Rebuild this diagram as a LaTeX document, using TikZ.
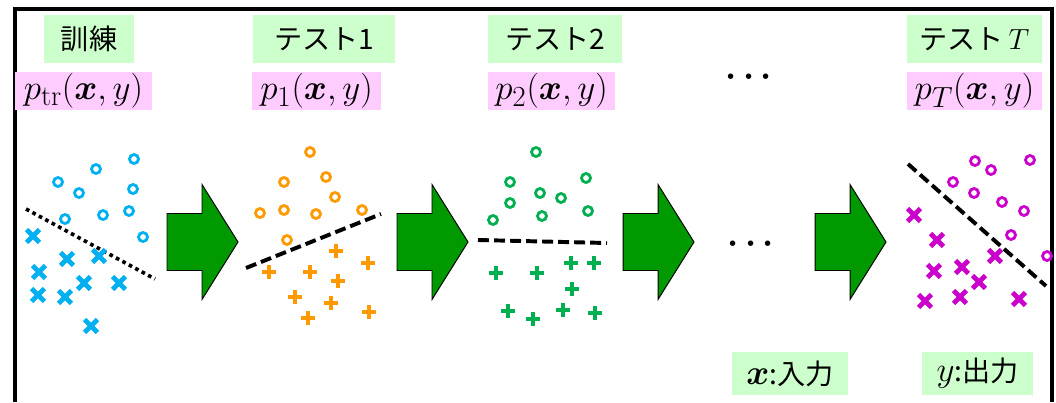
\documentclass[tikz,border=0pt]{standalone}
\usepackage{amsmath}
\usepackage{fontspec}
\newfontfamily\jpfont{Noto Sans CJK JP}

\definecolor{boxgreen}{RGB}{204,255,204}
\definecolor{boxpink}{RGB}{255,204,255}
\definecolor{arrowgreen}{RGB}{0,153,0}
\definecolor{trcyan}{RGB}{0,176,240}
\definecolor{tsorange}{RGB}{255,153,0}
\definecolor{tsgreen}{RGB}{0,176,80}
\definecolor{tsmagenta}{RGB}{204,0,204}

\tikzset{
    namebox/.style = {fill=boxgreen, inner sep=0pt, minimum height=1.2cm,
                      font=\fontsize{20}{24}\selectfont\jpfont},
    distbox/.style = {fill=boxpink, inner sep=0pt, minimum height=0.95cm,
                      font=\fontsize{29}{32}\selectfont},
    keybox/.style  = {fill=boxgreen, inner sep=0pt, minimum height=1.075cm,
                      font=\fontsize{20}{24}\selectfont\jpfont},
    ring/.pic   = {\draw[line width=2pt] (0,0) circle (3.2pt);},
    xmark/.pic  = {\draw[line width=3.4pt] (-4.6pt,-4.6pt) -- (4.6pt,4.6pt) (-4.6pt,4.6pt) -- (4.6pt,-4.6pt);},
    pmark/.pic  = {\draw[line width=3pt] (-5pt,0) -- (5pt,0) (0,-5pt) -- (0,5pt);},
    bigarrow/.pic = {\draw[fill=arrowgreen, line width=0.7pt]
                        (0,-28.5) -- (35,-28.5) -- (35,-57.5) -- (71,0)
                        -- (35,57.5) -- (35,28.5) -- (0,28.5) -- cycle;},
    boundary/.style = {line width=2.8pt, dash pattern=on 7.8pt off 3.6pt},
}

\begin{document}
\begin{tikzpicture}[x=0.025cm,y=-0.025cm]

            \useasboundingbox (0,0) rectangle (1056,402);
            % \draw [help lines,step=50] (0,0) grid (1056,402);

            % frame (bottom edge is cut off)
            \draw[line width=2.2pt] (15,402) -- (15,9) -- (1052,9) -- (1052,402);

            \path   (89,39)     node (train)  [namebox, minimum width=2.25cm]  {訓練}
                    (324,39)    node (test1)  [namebox, minimum width=3.55cm]  {テスト1}
                    (555,39)    node (test2)  [namebox, minimum width=3.35cm]  {テスト2}
                    (974.5,39)  node (testT)  [namebox, minimum width=3.375cm] {テスト\,$T$}
                    (83.5,91)   node (ptr)    [distbox, minimum width=3.425cm] {$p_{\mathrm{tr}}(\boldsymbol{x},y)$}
                    (316.5,91)  node (p1)     [distbox, minimum width=3.225cm] {$p_1(\boldsymbol{x},y)$}
                    (551.5,91)  node (p2)     [distbox, minimum width=3.175cm] {$p_2(\boldsymbol{x},y)$}
                    (974.5,91)  node (pT)     [distbox, minimum width=3.375cm] {$p_T(\boldsymbol{x},y)$}
                    (752,77)    node (dotstop) [font=\fontsize{28}{30}\selectfont] {$\boldsymbol{\cdots}$}
                    (754,244)   node (dotsmid) [font=\fontsize{28}{30}\selectfont] {$\boldsymbol{\cdots}$}
                    (790,373.5) node (inkey)  [keybox, minimum width=2.9cm]
                                {{\fontsize{25}{28}\selectfont$\boldsymbol{x}$}:入力}
                    (977.5,373.5) node (outkey) [keybox, minimum width=2.775cm]
                                {{\fontsize{25}{28}\selectfont$y$}:出力};

            % big arrows
            \path (167,242) pic {bigarrow}
                  (397,242) pic {bigarrow}
                  (623,242) pic {bigarrow}
                  (815,242) pic {bigarrow};

            % training data
            \draw[line width=2.6pt, dash pattern=on 2.6pt off 2.6pt] (26,209) -- (155,279);
            \path[trcyan] (134,159) pic {ring} (96,169) pic {ring} (58,182) pic {ring}
                          (79,193) pic {ring} (133,189) pic {ring} (103,215) pic {ring}
                          (129,211) pic {ring} (65,219) pic {ring} (143,237) pic {ring};
            \path[trcyan] (33,236) pic {xmark} (67,259) pic {xmark} (99,256) pic {xmark}
                          (39,272) pic {xmark} (84,283) pic {xmark} (119,283) pic {xmark}
                          (38,295) pic {xmark} (65,297) pic {xmark} (91,326) pic {xmark};

            % test 1
            \draw[boundary] (246,268) -- (381,214);
            \path[tsorange] (310,152) pic {ring} (284,182) pic {ring} (326,177) pic {ring}
                            (335,197) pic {ring} (260,213) pic {ring} (284,210) pic {ring}
                            (316,214) pic {ring} (362,210) pic {ring} (287,240) pic {ring};
            \path[tsorange] (336,251) pic {pmark} (368,263) pic {pmark} (269,272) pic {pmark}
                            (310,272) pic {pmark} (338,281) pic {pmark} (295,297) pic {pmark}
                            (331,303) pic {pmark} (308,318) pic {pmark} (369,312) pic {pmark};

            % test 2
            \draw[boundary] (478,240) -- (607,243);
            \path[tsgreen] (536,152) pic {ring} (510,182) pic {ring} (586,178) pic {ring}
                           (540,193) pic {ring} (561,198) pic {ring} (510,203) pic {ring}
                           (588,211) pic {ring} (493,220) pic {ring} (542,216) pic {ring};
            \path[tsgreen] (496,273) pic {pmark} (537,273) pic {pmark} (571,263) pic {pmark}
                           (594,263) pic {pmark} (572,289) pic {pmark} (508,311) pic {pmark}
                           (533,319) pic {pmark} (563,310) pic {pmark} (595,313) pic {pmark};

            % test T
            \draw[boundary] (908,164) -- (1046,286);
            \path[tsmagenta] (975,161) pic {ring} (1030,160) pic {ring} (991,170) pic {ring}
                             (953,182) pic {ring} (974,193) pic {ring} (1002,202) pic {ring}
                             (1024,211) pic {ring} (1011,235) pic {ring} (1047,256) pic {ring};
            \path[tsmagenta] (914,215) pic {xmark} (937,240) pic {xmark} (995,256) pic {xmark}
                             (934,271) pic {xmark} (962,267) pic {xmark} (979,282) pic {xmark}
                             (925,301) pic {xmark} (960,297) pic {xmark} (1019,299) pic {xmark};

\end{tikzpicture}
\end{document}
